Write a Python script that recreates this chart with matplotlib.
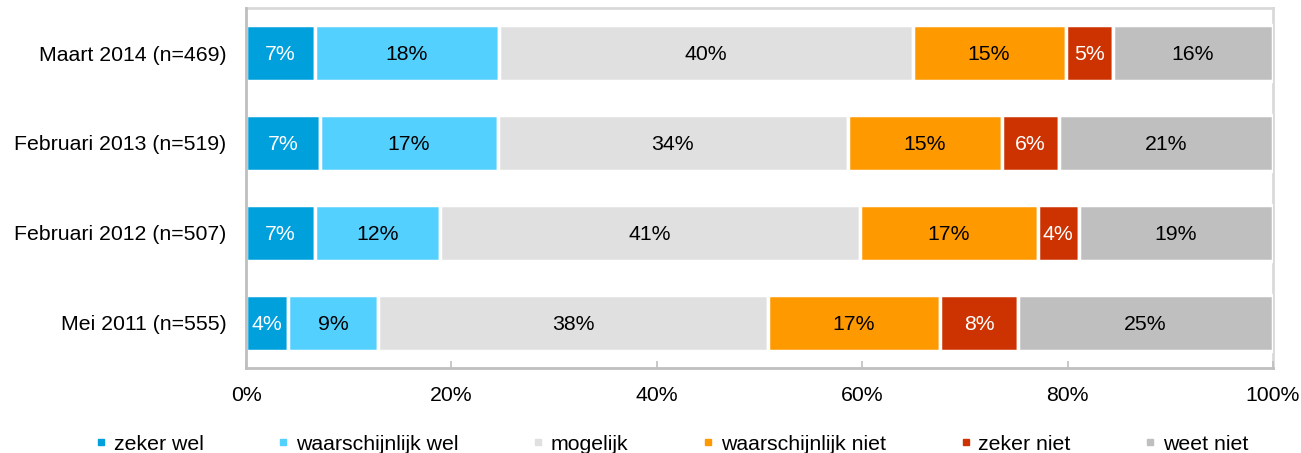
import numpy as np
import matplotlib.pyplot as plt
from matplotlib.lines import Line2D

plt.rcParams['font.family'] = ['Liberation Sans', 'DejaVu Sans']

# survey waves (bottom to top)
waves = ['Mei 2011 (n=555)', 'Februari 2012 (n=507)', 'Februari 2013 (n=519)', 'Maart 2014 (n=469)']
answers = ['zeker wel', 'waarschijnlijk wel', 'mogelijk', 'waarschijnlijk niet', 'zeker niet', 'weet niet']

# shares per answer, one value per wave
zeker_wel = [4.1, 6.7, 7.2, 6.7]
waarschijnlijk_wel = [8.8, 12.2, 17.3, 17.9]
mogelijk = [37.9, 40.9, 34.1, 40.3]
waarschijnlijk_niet = [16.8, 17.3, 15.0, 14.9]
zeker_niet = [7.6, 4.0, 5.6, 4.6]
weet_niet = [24.8, 18.9, 20.8, 15.6]

# labels as printed on the bars
labels_zeker_wel = ['4%', '7%', '7%', '7%']
labels_waarschijnlijk_wel = ['9%', '12%', '17%', '18%']
labels_mogelijk = ['38%', '41%', '34%', '40%']
labels_waarschijnlijk_niet = ['17%', '17%', '15%', '15%']
labels_zeker_niet = ['8%', '4%', '6%', '5%']
labels_weet_niet = ['25%', '19%', '21%', '16%']

series = [zeker_wel, waarschijnlijk_wel, mogelijk, waarschijnlijk_niet, zeker_niet, weet_niet]
labels = [labels_zeker_wel, labels_waarschijnlijk_wel, labels_mogelijk,
          labels_waarschijnlijk_niet, labels_zeker_niet, labels_weet_niet]
colors = ['#00A0DC', '#54D0FF', '#E0E0E0', '#FF9900', '#CC3300', '#BFBFBF']
text_colors = ['white', 'black', 'black', 'black', 'white', 'black']

fs = 15.3

fig = plt.figure(figsize=(13.01, 4.53), dpi=100)
ax = fig.add_axes([246 / 1301, 85 / 453, 1027 / 1301, 360 / 453])

y = np.arange(len(waves))
left = np.zeros(len(waves))
for vals, labs, col, tcol in zip(series, labels, colors, text_colors):
    vals = np.array(vals)
    ax.barh(y, vals, left=left, height=0.62, color=col, edgecolor='white', linewidth=2.5, zorder=2)
    for yi, (v, l, lab) in enumerate(zip(vals, left, labs)):
        ax.text(l + v / 2, yi - 0.02, lab, ha='center', va='center', fontsize=fs, color=tcol, zorder=3)
    left += vals

ax.set_xlim(0, 100)
ax.set_ylim(-0.5, 3.5)
ax.set_yticks(y)
ax.set_yticklabels(waves, fontsize=fs)
ax.set_xticks(np.arange(0, 101, 20))
ax.set_xticklabels([f'{v}%' for v in range(0, 101, 20)], fontsize=fs)
ax.tick_params(axis='y', length=0, pad=14)
ax.tick_params(axis='x', direction='in', length=5, width=1.2, color='#BFBFBF', pad=13)

for s in ['left', 'bottom']:
    ax.spines[s].set_color('#BFBFBF')
    ax.spines[s].set_linewidth(2)
    ax.spines[s].set_zorder(4)
for s in ['top', 'right']:
    ax.spines[s].set_color('#D9D9D9')
    ax.spines[s].set_linewidth(2)
    ax.spines[s].set_zorder(1)

handles = [Line2D([], [], linestyle='none', marker='s', markersize=5, color=c) for c in colors]
fig.legend(handles, answers, loc='center', bbox_to_anchor=(672 / 1301, 9 / 453), ncol=6,
           frameon=False, fontsize=fs, handlelength=0.5, handletextpad=0.35, columnspacing=3.5,
           borderaxespad=0, borderpad=0)

fig.savefig('out.png', dpi=100)
